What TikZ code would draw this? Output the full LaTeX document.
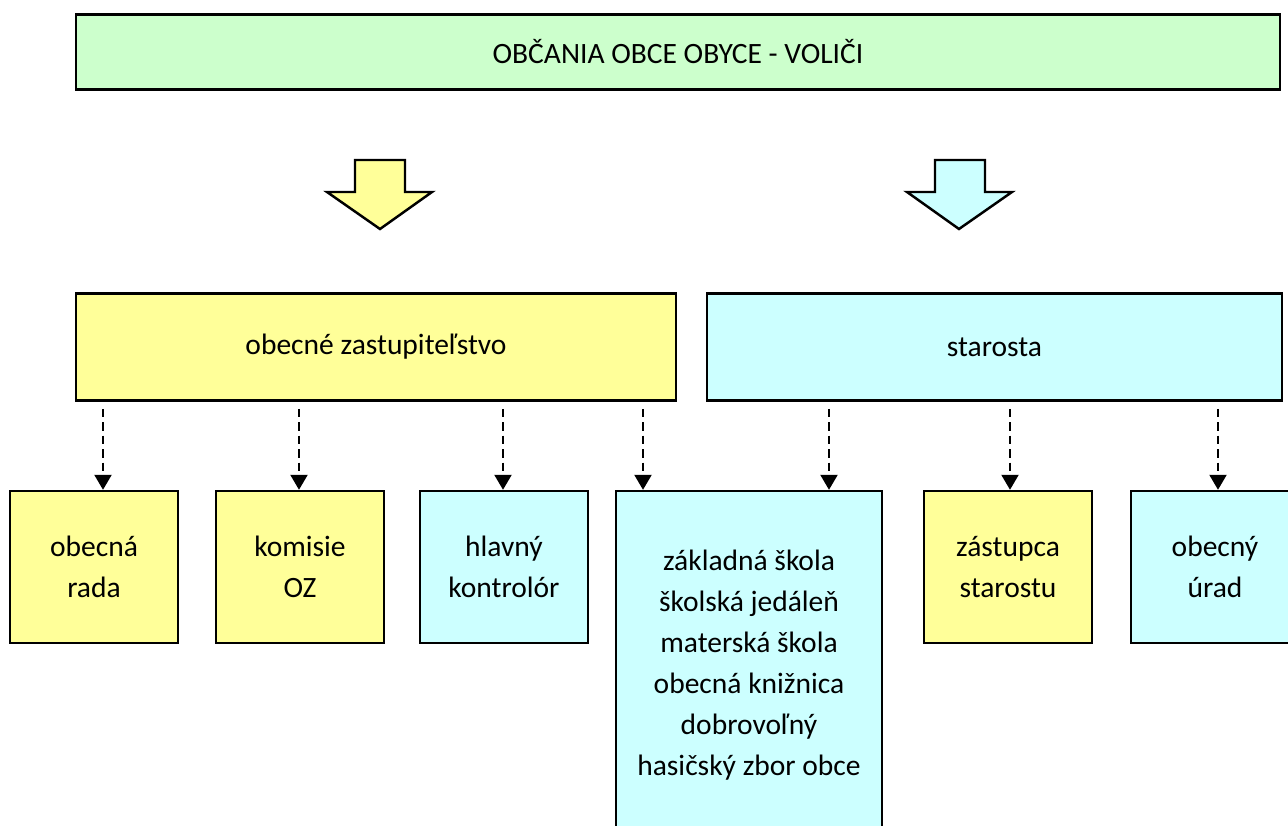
\documentclass[tikz,border=0pt]{standalone}
\usepackage{fontspec}
\setmainfont{Carlito}
\usetikzlibrary{arrows.meta}
\definecolor{zelena}{HTML}{CCFFCC}
\definecolor{zlta}{HTML}{FFFF99}
\definecolor{modra}{HTML}{CCFFFF}
\begin{document}
\begin{tikzpicture}[x=0.02cm, y=-0.02cm,
    box/.style = {draw, line width=1.4pt, align=center, inner sep=0pt,
                  font=\fontsize{16.8}{23.3}\selectfont},
    small/.style = {box, minimum width=3.36cm, minimum height=3.04cm},
    big/.style = {box, minimum height=2.14cm},
    dep/.style = {-{Triangle[width=0.34cm,length=0.3cm]}, line width=1.2pt,
                  dash pattern=on 0.17cm off 0.1cm},
    hrot/.style = {draw, line width=1.4pt, line join=miter}]
    % ramec obrazku
    \useasboundingbox (0,0) rectangle (1288,825);
    \clip (0,0) rectangle (1288,825);

    % volici
    \node[box, fill=zelena, minimum width=24.08cm, minimum height=1.5cm] (volici) at (678,52) {OBČANIA OBCE OBYCE - VOLIČI};

    % velke sipky
    \draw[hrot, fill=zlta] (355,160) -- (405,160) -- (405,192) -- (432,192) -- (380,229) -- (327,192) -- (355,192) -- cycle;
    \draw[hrot, fill=modra] (935,160) -- (985,160) -- (985,192) -- (1012,192) -- (959,229) -- (907,192) -- (935,192) -- cycle;

    % zastupitelstvo a starosta
    \node[big, fill=zlta, minimum width=12cm] (zast) at (376,347) {obecné zastupiteľstvo};
    \node[big, fill=modra, minimum width=11.5cm] (star) at (994.5,347) {starosta};

    % spodne boxy
    \node[small, fill=zlta] (rada) at (94,567) {obecná\\rada};
    \node[small, fill=zlta] (komisie) at (300,567) {komisie\\OZ};
    \node[small, fill=modra] (kontrolor) at (504,567) {hlavný\\kontrolór};
    \node[box, fill=modra, minimum width=5.32cm, minimum height=6.96cm] (skola) at (749,665)
        {základná škola\\školská jedáleň\\materská škola\\obecná knižnica\\dobrovoľný\\hasičský zbor obce};
    \node[small, fill=zlta] (zastupca) at (1008,567) {zástupca\\starostu};
    \node[small, fill=modra] (urad) at (1215,567) {obecný\\úrad};

    % prepojenia
    \draw[dep, shorten <=4pt] (zast.south -| 103,0) -- (rada.north -| 103,0);
    \draw[dep, shorten <=4pt] (zast.south -| 299,0) -- (komisie.north -| 299,0);
    \draw[dep, shorten <=4pt] (zast.south -| 503,0) -- (kontrolor.north -| 503,0);
    \draw[dep, shorten <=4pt] (zast.south -| 643,0) -- (skola.north -| 643,0);
    \draw[dep, shorten <=4pt] (star.south -| 829,0) -- (skola.north -| 829,0);
    \draw[dep, shorten <=4pt] (star.south -| 1010,0) -- (zastupca.north -| 1010,0);
    \draw[dep, shorten <=4pt] (star.south -| 1218,0) -- (urad.north -| 1218,0);
\end{tikzpicture}
\end{document}
